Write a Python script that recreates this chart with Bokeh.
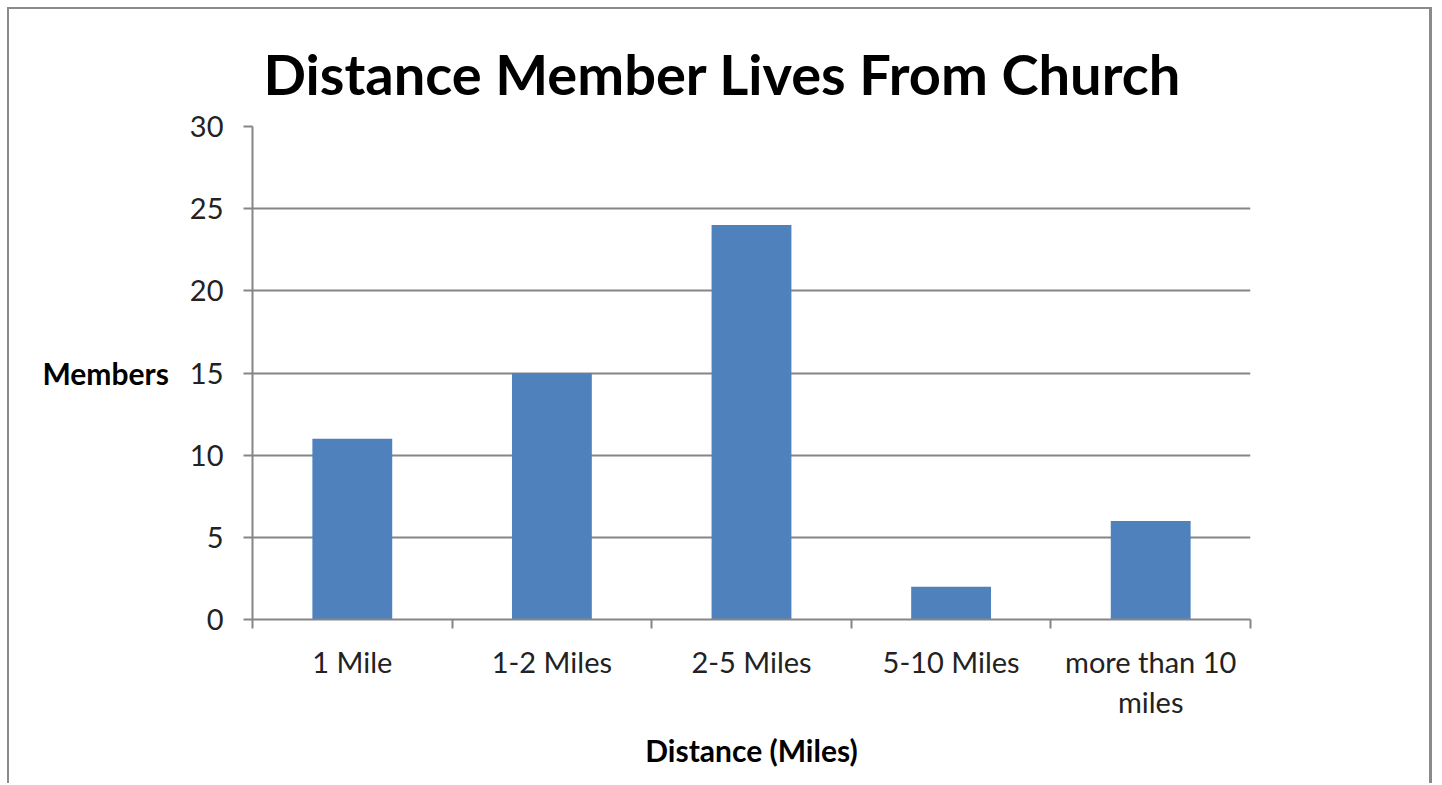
from bokeh.plotting import figure
from bokeh.models import FixedTicker, Range1d, ColumnDataSource
from bokeh.embed import file_html
from bokeh.resources import INLINE

categories = ["1 Mile", "1-2 Miles", "2-5 Miles", "5-10 Miles", "more than 10\nmiles"]
members = [11, 15, 24, 2, 6]
y_ticks = [0, 5, 10, 15, 20, 25, 30]

centers = [i + 0.5 for i in range(len(categories))]
boundaries = list(range(len(categories) + 1))

src = ColumnDataSource(data=dict(x=centers, top=members, cat=categories))

GRAY = "#868686"
FONT = "Lato"

p = figure(width=1425, height=776, output_backend="svg", toolbar_location=None,
           x_range=Range1d(0, len(categories)), y_range=Range1d(0, 30),
           min_border_left=243, min_border_right=184, min_border_top=117,
           min_border_bottom=166)
p.styles = {"margin-left": "7px", "margin-top": "7px",
            "border-left": "2px solid #8a8a8a", "border-top": "2px solid #8a8a8a",
            "border-right": "3px solid #8a8a8a"}

p.vbar(x="x", top="top", width=0.4, source=src, fill_color="#4F81BD", line_color=None)

p.title.text = "Distance Member Lives From Church"
p.title.text_font = FONT
p.title.text_font_style = "bold"
p.title.text_font_size = "56px"
p.title.text_color = "black"
p.title.align = "left"
p.title.offset = 11
p.title.standoff = 40

p.outline_line_color = None
p.xgrid.grid_line_color = None
p.ygrid.grid_line_color = GRAY
p.ygrid.grid_line_width = 2

# y axis
p.yaxis.ticker = FixedTicker(ticks=y_ticks)
p.yaxis.axis_line_color = GRAY
p.yaxis.axis_line_width = 2
p.yaxis.major_tick_line_color = GRAY
p.yaxis.major_tick_line_width = 2
p.yaxis.major_tick_out = 9
p.yaxis.major_tick_in = 0
p.yaxis.minor_tick_line_color = None
p.yaxis.major_label_text_font = FONT
p.yaxis.major_label_text_font_size = "29px"
p.yaxis.major_label_text_color = "#222222"
p.yaxis.major_label_standoff = 20
p.yaxis.axis_label = "Members"
p.yaxis.axis_label_orientation = "horizontal"
p.yaxis.axis_label_text_font = FONT
p.yaxis.axis_label_text_font_style = "bold"
p.yaxis.axis_label_text_font_size = "30px"
p.yaxis.axis_label_text_color = "black"
p.yaxis.axis_label_standoff = 18

# x axis
p.xaxis.ticker = FixedTicker(ticks=centers, minor_ticks=boundaries)
p.xaxis.major_label_overrides = {c: lab for c, lab in zip(centers, categories)}
p.xaxis.axis_line_color = GRAY
p.xaxis.axis_line_width = 2
p.xaxis.major_tick_line_color = None
p.xaxis.major_tick_out = 0
p.xaxis.major_tick_in = 0
p.xaxis.minor_tick_line_color = GRAY
p.xaxis.minor_tick_line_width = 2
p.xaxis.minor_tick_out = 9
p.xaxis.minor_tick_in = 0
p.xaxis.major_label_text_font = FONT
p.xaxis.major_label_text_font_size = "29px"
p.xaxis.major_label_text_line_height = 1.15
p.xaxis.major_label_text_color = "#222222"
p.xaxis.major_label_standoff = 15
p.xaxis.axis_label = "Distance (Miles)"
p.xaxis.axis_label_text_font = FONT
p.xaxis.axis_label_text_font_style = "bold"
p.xaxis.axis_label_text_font_size = "30px"
p.xaxis.axis_label_text_color = "black"
p.xaxis.axis_label_standoff = 10

open("out.html", "w").write(file_html(p, INLINE))
